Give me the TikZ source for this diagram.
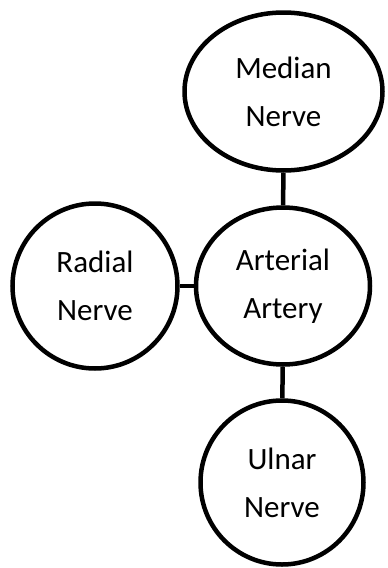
\documentclass[tikz,border=0pt]{standalone}
\usepackage{fontspec}
\setmainfont{Carlito}
\usepackage{tikz}
\usetikzlibrary{shapes.geometric}

\begin{document}
\begin{tikzpicture}[x = 1pt, y = -1pt, line width = 4.5pt,
  part/.style = {draw, ellipse, inner sep = 0pt, align = center,
    font = \fontsize{31}{48}\selectfont}]
\useasboundingbox (0,0) rectangle (388,568);
\node[part, minimum width = 198pt, minimum height = 158pt] (med) at (283.5,91.5) {Median\\Nerve};
\node[part, minimum width = 174pt, minimum height = 157pt] (art) at (283,286) {Arterial\\Artery};
\node[part, minimum width = 165pt, minimum height = 165pt] (rad) at (95,286) {Radial\\Nerve};
\node[part, minimum width = 163pt, minimum height = 164pt] (uln) at (282,482.5) {Ulnar\\Nerve};
\draw (med) -- (art);
\draw (rad) -- (art);
\draw (art) -- (uln);
\end{tikzpicture}
\end{document}
